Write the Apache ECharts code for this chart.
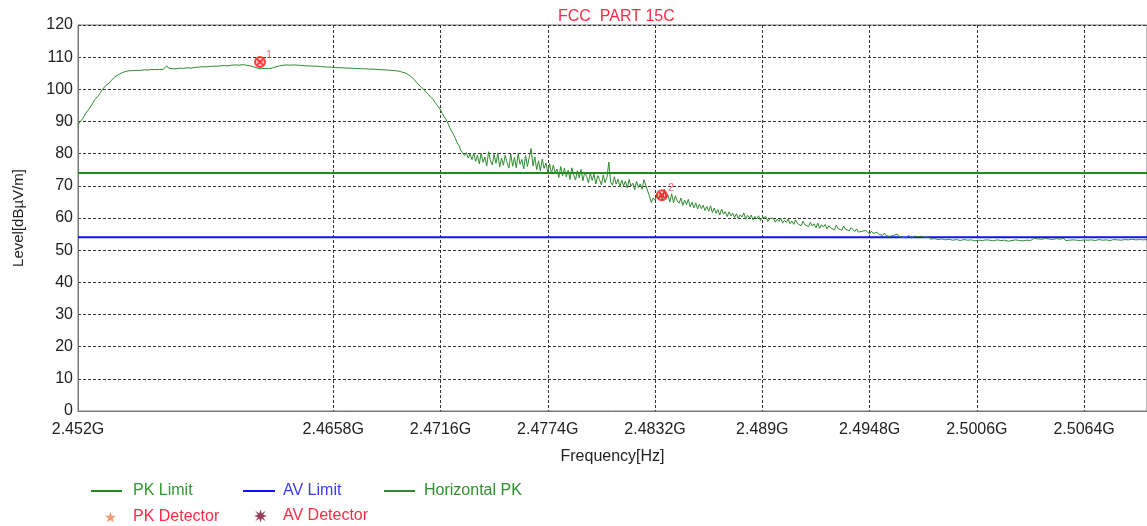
<!DOCTYPE html>
<html>
<head>
<meta charset="utf-8">
<script src="https://cdn.jsdelivr.net/npm/echarts@6/dist/echarts.min.js"></script>
<style>
  html, body { margin: 0; padding: 0; background: #fff; }
  #chart { width: 1147px; height: 526px; }
</style>
</head>
<body>
<div id="chart"></div>
<script>
var myChart = echarts.init(document.getElementById('chart'));

// sweep: start frequency (GHz) and step between points
var sweepStart = 2.452;
var sweepStep = 0.0001;
// Horizontal PK trace, dBuV/m
var pkLevels = [
  89.0, 89.6, 90.5, 91.3, 92.4, 93.0, 93.9, 94.5, 95.7, 96.8,
  97.3, 98.0, 98.9, 99.8, 100.4, 101.2, 101.5, 102.0, 102.8, 103.4,
  103.9, 104.2, 104.6, 104.9, 105.2, 105.4,
  105.6, 105.7, 105.8, 105.7, 105.8, 105.9, 105.9, 105.8, 105.9, 106.0,
  106.1, 106.0, 106.0, 106.1, 106.2, 106.1, 106.1, 106.3, 106.2, 106.3,
  106.2, 106.4, 107.3, 106.6, 106.3, 106.4, 106.5, 106.4, 106.4, 106.6,
  106.6, 106.5, 106.5, 106.7, 106.7, 106.6, 106.6, 106.8, 106.8, 106.9,
  106.9, 107.0, 107.0, 107.0, 107.0, 107.1, 107.1, 107.2, 107.2, 107.2,
  107.2, 107.3, 107.3, 107.4, 107.4, 107.3, 107.3, 107.5, 107.5, 107.6,
  107.6, 107.5, 107.5, 107.7, 107.7, 107.5, 107.4, 107.3, 107.2, 107.0,
  106.8, 106.6, 106.5, 106.4, 106.3, 106.5, 106.7, 106.4, 106.2, 106.6,
  106.8, 107.0, 107.2, 107.3, 107.4, 107.5, 107.5, 107.6, 107.6, 107.5,
  107.5, 107.6, 107.6, 107.5, 107.4, 107.4, 107.3, 107.3, 107.4, 107.3,
  107.2, 107.2, 107.3, 107.2, 107.1, 107.1, 107.0, 107.0, 107.1, 106.9,
  106.8, 106.9, 106.9, 106.8, 106.7, 106.7, 106.8, 106.7, 106.6, 106.6,
  106.7, 106.6, 106.5, 106.5, 106.6, 106.5, 106.4, 106.4, 106.5, 106.4,
  106.4, 106.3, 106.2, 106.3, 106.3, 106.2, 106.2, 106.1, 106.0, 106.1,
  106.1, 106.0, 106.0, 105.9, 105.9, 105.8, 105.8, 105.7, 105.6, 105.4,
  105.3, 105.1, 104.8, 104.4, 104.0, 103.5, 102.9, 102.2, 101.6, 101.0,
  100.5, 99.9, 99.4, 98.6, 98.0, 97.5, 96.8, 96.0, 95.2, 94.5,
  93.6, 92.4, 91.5, 90.6, 89.5, 88.1, 87.0, 86.0, 84.8, 83.4,
  82.5, 81.0, 80.2, 79.4, 80.3, 78.6, 79.9, 78.2, 80.1, 77.6,
  79.5, 76.8, 80.2, 77.3, 79.0, 76.2, 80.6, 77.8, 76.5, 79.8,
  77.0, 80.1, 75.8, 78.6, 76.4, 79.5, 77.2, 75.5, 79.9, 76.1,
  78.8, 75.6, 80.0, 76.7, 78.2, 75.3, 79.4, 76.0, 78.9, 81.6,
  76.2, 79.0, 75.0, 77.8, 74.6, 78.3, 75.4, 77.1, 74.3, 76.9,
  73.8, 76.5, 74.0, 75.2, 72.6, 76.0, 73.1, 75.5, 72.8, 74.9,
  72.0, 75.6, 73.3, 71.8, 74.7, 72.5, 75.1, 71.6, 74.2, 72.9,
  70.9, 74.0, 71.7, 73.6, 70.6, 73.2, 71.9, 70.3, 73.4, 71.0,
  72.6, 77.4, 71.2, 70.2, 72.8, 70.5, 72.1, 69.7, 71.8, 70.0,
  71.5, 69.3, 72.0, 69.9, 70.8, 68.8, 71.4, 69.5, 70.6, 68.9,
  71.9, 70.2, 68.4, 66.8, 64.8, 66.2, 65.5, 67.4, 66.0, 67.8,
  65.4, 68.9, 66.3, 67.2, 65.0, 67.5, 64.8, 66.9, 65.3, 64.6,
  66.2, 63.9, 65.6, 64.2, 65.8, 63.5, 64.9, 63.2, 64.7, 62.8,
  64.3, 62.9, 64.0, 62.3, 63.6, 62.1, 63.8, 61.7, 63.1, 61.5,
  62.6, 60.9, 62.8, 61.2, 62.0, 60.4, 61.9, 60.7, 61.5, 60.2,
  61.3, 59.8, 61.0, 60.3, 61.6, 59.6, 60.8, 60.0, 60.9, 59.4,
  60.5, 59.7, 60.7, 59.2, 60.1, 59.5, 60.4, 58.9, 59.8, 59.3,
  60.0, 58.7, 59.6, 58.9, 59.9, 58.4, 59.3, 58.6, 59.7, 58.2,
  59.1, 58.0, 59.4, 58.3, 58.8, 57.6, 59.0, 57.9, 58.5, 57.3,
  58.7, 57.5, 58.2, 57.0, 58.4, 56.8, 57.9, 57.2, 58.0, 56.6,
  57.6, 56.9, 57.4, 56.3, 57.8, 56.7, 57.1, 56.2, 57.5, 56.5,
  56.9, 56.0, 57.0, 56.4, 55.8, 56.6, 55.6, 56.2, 55.9, 55.3,
  56.1, 55.5, 55.0, 55.9, 55.2, 54.7, 55.6, 54.9, 55.4, 54.6,
  55.3, 54.5, 55.1, 54.3, 54.9, 54.6, 54.1, 55.0, 54.2, 54.7,
  54.0, 54.5, 53.8, 54.6, 54.1, 53.7, 54.4, 53.9, 54.2, 53.6,
  54.3, 53.7, 54.0, 53.5, 54.2, 53.4, 53.9, 53.6, 54.1, 53.3,
  53.8, 53.5, 54.0, 53.2, 53.7, 53.4, 53.9, 53.1, 53.6, 53.3,
  53.8, 53.0, 53.5, 53.3, 53.9, 53.1, 53.6, 53.2, 53.7, 52.9,
  53.4, 53.1, 53.6, 53.0, 53.5, 53.2, 53.7, 53.1, 53.4, 52.9,
  53.5, 53.2, 53.8, 53.0, 53.4, 53.1, 53.6, 52.8, 53.3, 53.0,
  53.5, 53.2, 53.7, 53.0, 53.4, 52.9, 53.5, 53.1, 53.6, 53.0,
  53.3, 53.7, 53.1, 53.5, 52.9, 53.4, 53.0, 53.6, 53.2, 53.5,
  52.9, 53.3, 53.1, 53.6, 53.0, 53.4, 53.2, 53.7, 53.0, 53.5,
  53.1, 53.6, 53.2, 53.8, 53.1, 53.4, 53.0, 53.5, 53.2, 53.6,
  53.1, 53.5, 53.2, 53.7, 53.0, 53.4, 53.3, 53.8, 53.1, 53.5,
  53.2, 53.6, 53.0, 53.5, 53.3, 53.7, 53.2, 53.6, 53.1, 53.5,
  53.3, 53.8, 53.2, 53.6, 53.4, 53.7, 53.2, 53.5, 53.3, 53.6,
  53.2, 53.5, 53.3
];
var sweepEnd = sweepStart + (pkLevels.length - 1) * sweepStep;

var pkLimit = 74;
var avLimit = 54;

// marked peaks
var markerNames = ['1', '2'];
var markerFreqs = [2.46184, 2.48357];
var markerLevels = [108.5, 67.1];

var xTickValues = [2.452, 2.4658, 2.4716, 2.4774, 2.4832, 2.489, 2.4948, 2.5006, 2.5064];

var traceData = pkLevels.map(function (v, i) {
    return [sweepStart + i * sweepStep, v];
});
var markerData = markerFreqs.map(function (f, i) {
    return {value: [f, markerLevels[i]], name: markerNames[i]};
});

var font = 'Liberation Sans, Arial, sans-serif';
var gridLine = {show: true, lineStyle: {color: '#333', type: [3, 2], width: 1}};
var crossMark = 'path://M5,0A5,5 0 1 1 4.99,0ZM1.5,1.5L8.5,8.5M8.5,1.5L1.5,8.5';
var starMark = 'path://M5,0L6.2,3.6L10,3.7L7,6L8.1,9.6L5,7.5L1.9,9.6L3,6L0,3.7L3.8,3.6Z';
var burstMark = 'path://M5,0L6,3L9,1L7,4L10,5L7,6L9,9L6,7L5,10L4,7L1,9L3,6L0,5L3,4L1,1L4,3Z';

function legendAt(left, top, name, icon, textColor, w, h, gap) {
    return {
        left: left, top: top,
        data: [name],
        icon: icon,
        itemWidth: w, itemHeight: h,
        itemGap: 0,
        textStyle: {color: textColor, fontSize: 16, fontFamily: font, padding: [0, 0, 0, gap]},
        selectedMode: false
    };
}

option = {
    animation: false,
    backgroundColor: '#fff',
    title: {
        text: 'FCC  PART 15C',
        left: 553, top: 4,
        textStyle: {color: '#ff2a44', fontSize: 16, fontWeight: 'normal', fontFamily: font}
    },
    legend: [
        legendAt(86, 478, 'PK Limit', 'rect', '#2f9a2f', 31, 2, 6),
        legendAt(238, 478, 'AV Limit', 'rect', '#3a3aff', 32, 2, 3),
        legendAt(379, 478, 'Horizontal PK', 'rect', '#2f8f2f', 31, 2, 4),
        legendAt(100, 504, 'PK Detector', starMark, '#ff2a44', 11, 11, 12),
        legendAt(249, 503, 'AV Detector', burstMark, '#ff2a44', 13, 13, 11)
    ],
    grid: {left: 78, top: 25, right: 0, bottom: 115, show: true, borderColor: '#777', borderWidth: 1},
    xAxis: {
        type: 'value',
        min: sweepStart, max: sweepEnd,
        name: 'Frequency[Hz]',
        nameLocation: 'middle', nameGap: 38,
        nameTextStyle: {color: '#222', fontSize: 16, fontFamily: font},
        axisLine: {lineStyle: {color: '#777'}},
        axisTick: {show: false, customValues: xTickValues},
        axisLabel: {
            customValues: xTickValues,
            color: '#222', fontSize: 16, fontFamily: font, margin: 11,
            formatter: function (v) {
                return v.toFixed(4).replace(/0+$/, '') + 'G';
            }
        },
        splitLine: gridLine
    },
    yAxis: {
        type: 'value',
        min: 0, max: 120, interval: 10,
        name: 'Level[dBµV/m]',
        nameLocation: 'middle', nameGap: 52,
        nameTextStyle: {color: '#222', fontSize: 15, fontFamily: font},
        axisLine: {show: true, lineStyle: {color: '#777'}},
        axisTick: {show: false},
        axisLabel: {color: '#222', fontSize: 16, fontFamily: font, margin: 5},
        splitLine: gridLine
    },
    series: [{
        name: 'PK Limit',
        type: 'line',
        symbol: 'none',
        color: '#1e8c1e',
        lineStyle: {width: 2, color: '#1e8c1e'},
        data: [[sweepStart, pkLimit], [sweepEnd, pkLimit]],
        z: 3
    }, {
        name: 'AV Limit',
        type: 'line',
        symbol: 'none',
        color: '#1010ff',
        lineStyle: {width: 2, color: '#1010ff'},
        data: [[sweepStart, avLimit], [sweepEnd, avLimit]],
        z: 3
    }, {
        name: 'Horizontal PK',
        type: 'line',
        symbol: 'none',
        color: '#2e8b2e',
        lineStyle: {width: 1, color: '#2e8b2e'},
        data: traceData,
        z: 4
    }, {
        name: 'PK Detector',
        type: 'scatter',
        color: '#f08050',
        data: []
    }, {
        name: 'AV Detector',
        type: 'scatter',
        color: '#80102e',
        data: []
    }, {
        name: 'Markers',
        type: 'scatter',
        symbol: crossMark,
        symbolSize: 10,
        itemStyle: {color: 'rgba(255,0,0,0.25)', borderColor: '#ff1a1a', borderWidth: 2},
        label: {
            show: true, position: [12, -7],
            formatter: '{b}', color: '#ff3a4a', fontSize: 11, fontFamily: font
        },
        data: markerData,
        z: 6
    }]
};
myChart.setOption(option);
</script>
</body>
</html>
